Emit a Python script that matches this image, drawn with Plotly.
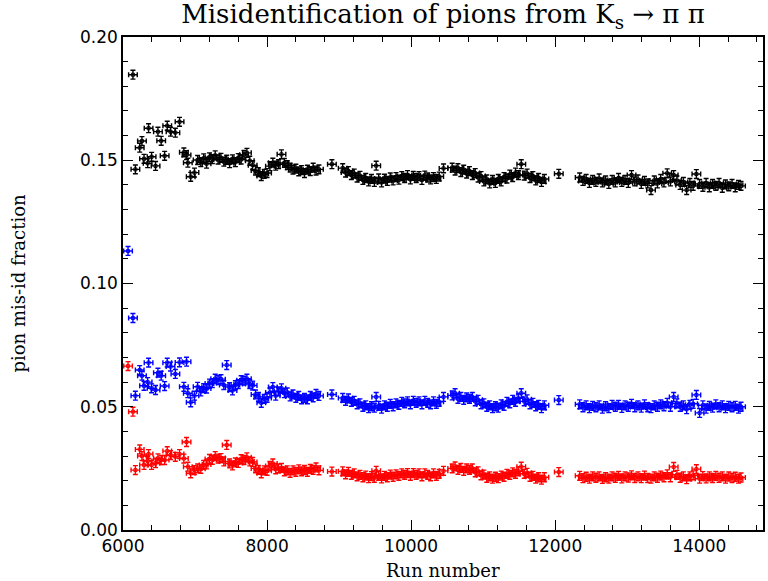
import plotly.graph_objects as go

# ---- data ----
runs_early = [6070, 6138, 6172, 6232, 6263, 6292, 6342, 6355, 6397, 6452,
              6485, 6530, 6578, 6614, 6660, 6727, 6785, 6845, 6882, 6900,
              6940, 6992, 7036]
black_early = [None, 0.1847, 0.1463, 0.1551, 0.1578, 0.1506, 0.1488, 0.1630, 0.1514, 0.1477,
               0.1616, 0.1579, 0.1518, 0.1640, 0.1616, 0.1612, 0.1656, 0.1532, 0.1521, 0.1490,
               0.1433, 0.1450, 0.1501]
blue_early = [0.1132, 0.0860, 0.0545, 0.0649, 0.0626, 0.0585, 0.0600, 0.0679, 0.0575, 0.0568,
              0.0638, 0.0626, 0.0584, 0.0679, 0.0663, 0.0633, 0.0680, 0.0581, 0.0683, 0.0555,
              0.0518, 0.0545, 0.0581]
red_early = [0.0665, 0.0480, 0.0243, 0.0327, 0.0300, 0.0264, 0.0280, 0.0308, 0.0264, 0.0271,
             0.0291, 0.0284, 0.0284, 0.0320, 0.0304, 0.0297, 0.0308, 0.0290, 0.0357, 0.0257,
             0.0230, 0.0243, 0.0250]

runs_a = [7080, 7120, 7160, 7200, 7240, 7280, 7320, 7360, 7400, 7440,
          7480, 7520, 7560, 7600, 7640, 7680, 7720, 7760, 7800, 7840,
          7880, 7920, 7960, 8000, 8040, 8080, 8120, 8160, 8200, 8240,
          8280, 8320, 8360, 8400, 8440, 8480, 8520, 8560, 8600, 8640,
          8680, 8720, 8900]
black_a = [0.1492, 0.1508, 0.1486, 0.1512, 0.1505, 0.1520, 0.1503, 0.1510, 0.1494, 0.1502,
           0.1488, 0.1504, 0.1492, 0.1509, 0.1503, 0.1522, 0.1530, 0.1498, 0.1480, 0.1458,
           0.1452, 0.1436, 0.1445, 0.1448, 0.1476, 0.1490, 0.1478, 0.1484, 0.1524, 0.1489,
           0.1480, 0.1470, 0.1462, 0.1466, 0.1455, 0.1460, 0.1448, 0.1462, 0.1456, 0.1470,
           0.1458, 0.1463, 0.1484]
blue_a = [0.0562, 0.0576, 0.0574, 0.0594, 0.0596, 0.0614, 0.0608, 0.0612, 0.0588, 0.0669,
          0.0580, 0.0566, 0.0588, 0.0592, 0.0608, 0.0606, 0.0614, 0.0592, 0.0586, 0.0550,
          0.0540, 0.0516, 0.0532, 0.0536, 0.0558, 0.0580, 0.0545, 0.0562, 0.0575, 0.0555,
          0.0558, 0.0542, 0.0550, 0.0536, 0.0544, 0.0530, 0.0536, 0.0530, 0.0544, 0.0538,
          0.0552, 0.0544, 0.0550]
red_a = [0.0248, 0.0264, 0.0266, 0.0288, 0.0285, 0.0300, 0.0290, 0.0292, 0.0278, 0.0345,
         0.0270, 0.0262, 0.0274, 0.0272, 0.0287, 0.0284, 0.0295, 0.0278, 0.0276, 0.0250,
         0.0244, 0.0230, 0.0242, 0.0240, 0.0260, 0.0270, 0.0246, 0.0250, 0.0252, 0.0238,
         0.0242, 0.0232, 0.0242, 0.0236, 0.0246, 0.0238, 0.0244, 0.0236, 0.0248, 0.0244,
         0.0254, 0.0242, 0.0237]

runs_b = [9050, 9090, 9130, 9170, 9210, 9250, 9290, 9330, 9370, 9410,
          9450, 9490, 9515, 9550, 9590, 9630, 9670, 9710, 9750, 9790,
          9830, 9870, 9910, 9950, 9990, 10030, 10070, 10110, 10150, 10190,
          10230, 10270, 10310, 10350, 10390, 10450]
black_b = [0.1468, 0.1450, 0.1456, 0.1440, 0.1446, 0.1430, 0.1437, 0.1420, 0.1428, 0.1414,
           0.1424, 0.1412, 0.1478, 0.1426, 0.1410, 0.1425, 0.1416, 0.1430, 0.1418, 0.1432,
           0.1421, 0.1436, 0.1428, 0.1440, 0.1422, 0.1437, 0.1428, 0.1436, 0.1420, 0.1438,
           0.1430, 0.1422, 0.1432, 0.1424, 0.1434, 0.1467]
blue_b = [0.0536, 0.0524, 0.0534, 0.0520, 0.0524, 0.0510, 0.0514, 0.0500, 0.0506, 0.0494,
          0.0502, 0.0496, 0.0540, 0.0504, 0.0492, 0.0506, 0.0500, 0.0512, 0.0502, 0.0514,
          0.0508, 0.0520, 0.0514, 0.0522, 0.0510, 0.0524, 0.0516, 0.0522, 0.0510, 0.0524,
          0.0516, 0.0510, 0.0522, 0.0512, 0.0520, 0.0540]
red_b = [0.0238, 0.0226, 0.0236, 0.0224, 0.0230, 0.0218, 0.0224, 0.0214, 0.0221, 0.0210,
         0.0219, 0.0212, 0.0240, 0.0220, 0.0209, 0.0220, 0.0214, 0.0225, 0.0216, 0.0226,
         0.0220, 0.0230, 0.0224, 0.0231, 0.0220, 0.0231, 0.0224, 0.0230, 0.0218, 0.0230,
         0.0224, 0.0218, 0.0230, 0.0220, 0.0228, 0.0240]

runs_c = [10570, 10610, 10650, 10690, 10730, 10770, 10810, 10850, 10890, 10930,
          10970, 11010, 11050, 11090, 11130, 11170, 11210, 11250, 11290, 11330,
          11370, 11410, 11450, 11490, 11529, 11570, 11610, 11650, 11690, 11730,
          11770, 11810, 11850, 12050]
black_c = [0.1470, 0.1458, 0.1468, 0.1452, 0.1462, 0.1446, 0.1456, 0.1440, 0.1448, 0.1430,
           0.1436, 0.1414, 0.1422, 0.1406, 0.1420, 0.1408, 0.1424, 0.1414, 0.1432, 0.1426,
           0.1442, 0.1432, 0.1450, 0.1440, 0.1484, 0.1438, 0.1446, 0.1428, 0.1436, 0.1418,
           0.1428, 0.1412, 0.1424, 0.1445]
blue_c = [0.0546, 0.0555, 0.0532, 0.0540, 0.0528, 0.0538, 0.0532, 0.0540, 0.0522, 0.0528,
          0.0510, 0.0514, 0.0500, 0.0506, 0.0494, 0.0502, 0.0496, 0.0510, 0.0504, 0.0520,
          0.0514, 0.0528, 0.0520, 0.0534, 0.0555, 0.0522, 0.0530, 0.0510, 0.0516, 0.0502,
          0.0508, 0.0494, 0.0506, 0.0527]
red_c = [0.0250, 0.0258, 0.0244, 0.0252, 0.0240, 0.0250, 0.0244, 0.0250, 0.0234, 0.0238,
         0.0222, 0.0225, 0.0212, 0.0218, 0.0208, 0.0216, 0.0210, 0.0221, 0.0216, 0.0228,
         0.0224, 0.0234, 0.0228, 0.0238, 0.0257, 0.0228, 0.0232, 0.0216, 0.0220, 0.0208,
         0.0214, 0.0204, 0.0214, 0.0235]

runs_d = [12340, 12385, 12430, 12475, 12520, 12565, 12610, 12655, 12700, 12745,
          12790, 12835, 12880, 12925, 12970, 13015, 13060, 13105, 13150, 13195,
          13240, 13285, 13330, 13375, 13420, 13465, 13510, 13555, 13600, 13645,
          13690, 13735, 13780, 13825, 13870, 13915, 13960, 14005, 14050, 14095,
          14140, 14185, 14230, 14275, 14320, 14365, 14410, 14455, 14500, 14545,
          14580]
black_d = [0.1430, 0.1416, 0.1424, 0.1408, 0.1420, 0.1412, 0.1426, 0.1410, 0.1418, 0.1404,
           0.1420, 0.1410, 0.1428, 0.1412, 0.1420, 0.1408, 0.1440, 0.1414, 0.1422, 0.1404,
           0.1416, 0.1406, 0.1379, 0.1418, 0.1406, 0.1424, 0.1410, 0.1447, 0.1414, 0.1440,
           0.1418, 0.1400, 0.1412, 0.1379, 0.1408, 0.1396, 0.1444, 0.1404, 0.1392, 0.1408,
           0.1390, 0.1404, 0.1396, 0.1408, 0.1388, 0.1402, 0.1394, 0.1404, 0.1390, 0.1400,
           0.1396]
blue_d = [0.0510, 0.0498, 0.0506, 0.0494, 0.0504, 0.0498, 0.0506, 0.0492, 0.0502, 0.0494,
          0.0508, 0.0500, 0.0508, 0.0495, 0.0506, 0.0500, 0.0512, 0.0498, 0.0506, 0.0496,
          0.0510, 0.0498, 0.0494, 0.0506, 0.0500, 0.0510, 0.0502, 0.0516, 0.0500, 0.0540,
          0.0514, 0.0500, 0.0506, 0.0490, 0.0508, 0.0512, 0.0548, 0.0475, 0.0506, 0.0492,
          0.0504, 0.0496, 0.0510, 0.0498, 0.0506, 0.0494, 0.0504, 0.0498, 0.0504, 0.0492,
          0.0500]
red_d = [0.0220, 0.0210, 0.0216, 0.0208, 0.0218, 0.0212, 0.0218, 0.0207, 0.0214, 0.0208,
         0.0218, 0.0212, 0.0220, 0.0209, 0.0218, 0.0213, 0.0222, 0.0211, 0.0218, 0.0210,
         0.0221, 0.0211, 0.0208, 0.0218, 0.0212, 0.0221, 0.0214, 0.0226, 0.0214, 0.0256,
         0.0224, 0.0212, 0.0218, 0.0206, 0.0218, 0.0222, 0.0247, 0.0208, 0.0219, 0.0209,
         0.0218, 0.0211, 0.0220, 0.0212, 0.0218, 0.0208, 0.0217, 0.0211, 0.0216, 0.0208,
         0.0213]

run_err = 60        # half-width of the run-number bar
frac_err = 0.0018   # half-height of the fraction bar

x_ticks = [6000, 8000, 10000, 12000, 14000]
y_ticks = [0.00, 0.05, 0.10, 0.15, 0.20]

runs = runs_early + runs_a + runs_b + runs_c + runs_d
series = [
    ("all", black_early + black_a + black_b + black_c + black_d, "#000000"),
    ("blue", blue_early + blue_a + blue_b + blue_c + blue_d, "#0000ff"),
    ("red", red_early + red_a + red_b + red_c + red_d, "#ff0000"),
]

fig = go.Figure()
for name, vals, col in series:
    assert len(vals) == len(runs)
    fig.add_trace(go.Scatter(
        x=runs, y=vals, mode="markers", name=name, showlegend=False,
        marker=dict(symbol="square-open", size=3, color=col, line=dict(width=1, color=col)),
        error_x=dict(type="constant", value=run_err, color=col, thickness=1.4, width=2.5),
        error_y=dict(type="constant", value=frac_err, color=col, thickness=1.4, width=2.5),
    ))

axis_common = dict(
    showline=True, linecolor="black", linewidth=1.6, mirror="allticks",
    ticks="inside", ticklen=10, tickwidth=1.2, tickcolor="black",
    showgrid=False, zeroline=False,
    tickfont=dict(family="DejaVu Sans", size=17, color="black"),
)

fig.update_layout(
    width=768, height=581,
    margin=dict(l=123, r=3, t=37, b=51),
    paper_bgcolor="white", plot_bgcolor="white",
    title=dict(text="Misidentification of pions from K<sub>s</sub> \u2192 \u03c0 \u03c0",
               x=0.5, xref="paper", xanchor="center",
               y=1 - 14 / 581, yref="container", yanchor="middle",
               font=dict(family="DejaVu Serif", size=26, color="black")),
    xaxis=dict(range=[6000, 14885], tickvals=x_ticks, ticktext=[str(v) for v in x_ticks],
               minor=dict(dtick=400, tick0=6000, ticks="inside", ticklen=5, tickwidth=1.2,
                          tickcolor="black"),
               **axis_common),
    yaxis=dict(range=[0, 0.2], tickvals=y_ticks, ticktext=["%.2f" % v for v in y_ticks],
               minor=dict(dtick=0.01, tick0=0, ticks="inside", ticklen=5, tickwidth=1.2,
                          tickcolor="black"),
               **axis_common),
    annotations=[
        dict(text="Run number", xref="paper", yref="paper", x=0.5, y=0,
             yshift=-40, xanchor="center", yanchor="middle", showarrow=False,
             font=dict(family="DejaVu Serif", size=18, color="black")),
        dict(text="pion mis-id fraction", xref="paper", yref="paper", x=0, y=0.5,
             xshift=-105, textangle=-90, xanchor="center", yanchor="middle", showarrow=False,
             font=dict(family="DejaVu Serif", size=18, color="black")),
    ],
)

fig.write_html("out.html")
